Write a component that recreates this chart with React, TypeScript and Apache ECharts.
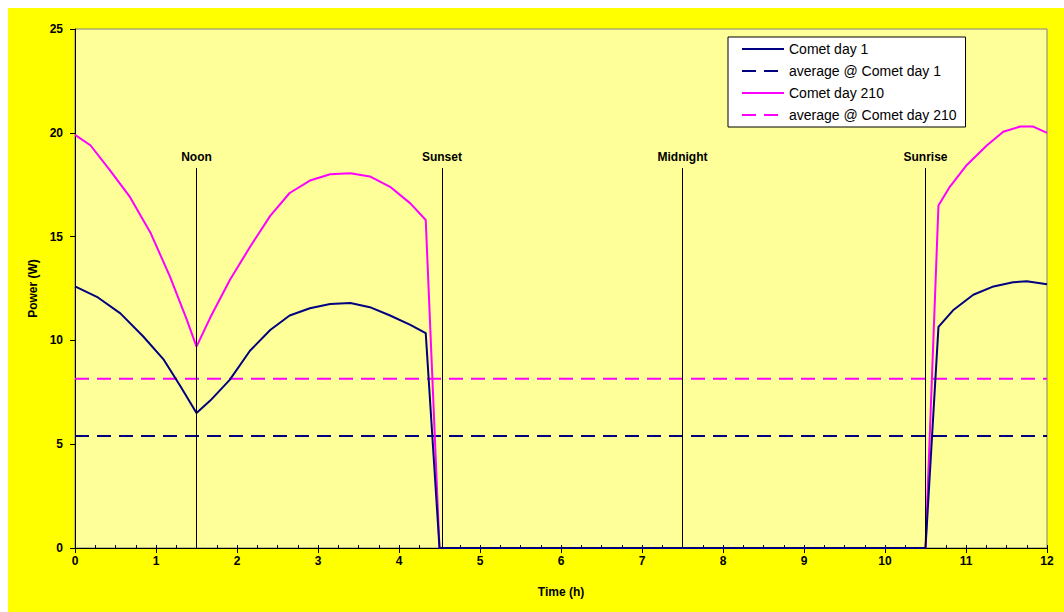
import React, { useEffect, useRef } from "react";
import * as echarts from "echarts";

// Time of day (h) and electrical power (W)
const day1Hours = [0, 0.27, 0.56, 0.84, 1.09, 1.3, 1.5, 1.67, 1.91, 2.16, 2.41, 2.65, 2.9, 3.15, 3.4, 3.64, 3.89, 4.14, 4.33, 4.5, 10.5, 10.66, 10.84, 11.09, 11.34, 11.58, 11.75, 12];
const day1Power = [12.6, 12.1, 11.3, 10.2, 9.1, 7.8, 6.5, 7.1, 8.1, 9.5, 10.5, 11.2, 11.55, 11.75, 11.8, 11.6, 11.2, 10.75, 10.35, 0, 0, 10.65, 11.45, 12.2, 12.6, 12.8, 12.85, 12.7];

const day210Hours = [0, 0.19, 0.43, 0.68, 0.93, 1.17, 1.38, 1.5, 1.67, 1.91, 2.16, 2.41, 2.65, 2.9, 3.15, 3.4, 3.64, 3.89, 4.14, 4.33, 4.5, 10.5, 10.66, 10.8, 11.01, 11.26, 11.46, 11.67, 11.83, 12];
const day210Power = [19.9, 19.4, 18.2, 16.9, 15.2, 13.1, 11.0, 9.7, 11.1, 12.9, 14.5, 16.0, 17.1, 17.7, 18.0, 18.05, 17.9, 17.4, 16.6, 15.8, 0, 0, 16.5, 17.4, 18.45, 19.4, 20.05, 20.3, 20.3, 20.0];

const averageDay1 = 5.4;
const averageDay210 = 8.15;

const seriesNames = ["Comet day 1", "average @ Comet day 1", "Comet day 210", "average @ Comet day 210"];

const eventNames = ["Noon", "Sunset", "Midnight", "Sunrise"];
const eventHours = [1.5, 4.53, 7.5, 10.5];
const eventLineTop = 18.3;

const xTicks = { min: 0, max: 12, interval: 1 };
const yTicks = { min: 0, max: 25, interval: 5 };

const NAVY = "#000080";
const MAGENTA = "#FF00FF";
const FONT = "'Liberation Sans', Arial, sans-serif";

const pairs = (xs: number[], ys: number[]) => xs.map((x, i) => [x, ys[i]]);

export default function App() {
  const ref = useRef<HTMLDivElement>(null);
  useEffect(() => {
    if (!ref.current) return;
    const chart = echarts.init(ref.current, undefined, { renderer: "svg" });
    const axisLabel = { color: "#000", fontWeight: "bold", fontSize: 12, fontFamily: FONT };
    chart.setOption({
      animation: false,
      backgroundColor: "#FFFF00",
      textStyle: { fontFamily: FONT },
      grid: {
        left: 67,
        top: 21,
        right: 17,
        bottom: 64,
        show: true,
        backgroundColor: "#FFFF99",
        borderColor: "#808080",
        borderWidth: 1,
      },
      legend: {
        orient: "vertical",
        left: 720,
        top: 29,
        data: seriesNames,
        backgroundColor: "#FFFFFF",
        borderColor: "#000",
        borderWidth: 1,
        borderRadius: 0,
        padding: [5, 9, 5, 13],
        itemWidth: 42,
        itemHeight: 14,
        itemGap: 8,
        itemStyle: { opacity: 0 },
        textStyle: { color: "#000", fontSize: 14, fontFamily: FONT },
      },
      xAxis: [
        {
          type: "value",
          min: xTicks.min,
          max: xTicks.max,
          interval: xTicks.interval,
          name: "Time (h)",
          nameLocation: "middle",
          nameGap: 38,
          nameTextStyle: { color: "#000", fontWeight: "bold", fontSize: 12, fontFamily: FONT },
          axisLine: { show: true, lineStyle: { color: "#000", width: 1 } },
          axisTick: { show: true, length: 5, lineStyle: { color: "#000" } },
          axisLabel: { ...axisLabel, margin: 7 },
          splitLine: { show: false },
        },
        {
          type: "value",
          position: "bottom",
          min: 0,
          max: 12,
          interval: 0.25,
          axisLine: { show: false },
          axisTick: { show: true, inside: true, length: 3, lineStyle: { color: "#000" } },
          axisLabel: { show: false },
          splitLine: { show: false },
        },
      ],
      yAxis: {
        type: "value",
        min: yTicks.min,
        max: yTicks.max,
        interval: yTicks.interval,
        name: "Power (W)",
        nameLocation: "middle",
        nameGap: 36,
        nameTextStyle: { color: "#000", fontWeight: "bold", fontSize: 12, fontFamily: FONT },
        axisLine: { show: true, lineStyle: { color: "#000", width: 1 } },
        axisTick: { show: true, length: 5, lineStyle: { color: "#000" } },
        axisLabel: { ...axisLabel, margin: 12 },
        splitLine: { show: false },
      },
      series: [
        {
          name: "events",
          type: "line",
          data: [],
          silent: true,
          markLine: {
            silent: true,
            symbol: ["none", "none"],
            lineStyle: { color: "#000", width: 1, type: "solid" },
            label: {
              show: true,
              position: "end",
              formatter: "{b}",
              color: "#000",
              fontWeight: "bold",
              fontSize: 12,
              fontFamily: FONT,
              distance: 5,
            },
            data: eventHours.map((h, i) => [
              { coord: [h, 0], name: eventNames[i] },
              { coord: [h, eventLineTop] },
            ]),
          },
        },
        {
          name: seriesNames[3],
          type: "line",
          data: [[0, averageDay210], [12, averageDay210]],
          symbol: "none",
          lineStyle: { color: MAGENTA, width: 2, type: [14, 8] },
          itemStyle: { color: MAGENTA },
        },
        {
          name: seriesNames[1],
          type: "line",
          data: [[0, averageDay1], [12, averageDay1]],
          symbol: "none",
          lineStyle: { color: NAVY, width: 2, type: [14, 8] },
          itemStyle: { color: NAVY },
        },
        {
          name: seriesNames[2],
          type: "line",
          data: pairs(day210Hours, day210Power),
          symbol: "none",
          lineStyle: { color: MAGENTA, width: 2 },
          itemStyle: { color: MAGENTA },
        },
        {
          name: seriesNames[0],
          type: "line",
          data: pairs(day1Hours, day1Power),
          symbol: "none",
          lineStyle: { color: NAVY, width: 2 },
          itemStyle: { color: NAVY },
        },
      ],
    });
    return () => chart.dispose();
  }, []);
  return (
    <div
      ref={ref}
      style={{ position: "absolute", left: 8, top: 8, width: 1056, height: 604 }}
    />
  );
}
